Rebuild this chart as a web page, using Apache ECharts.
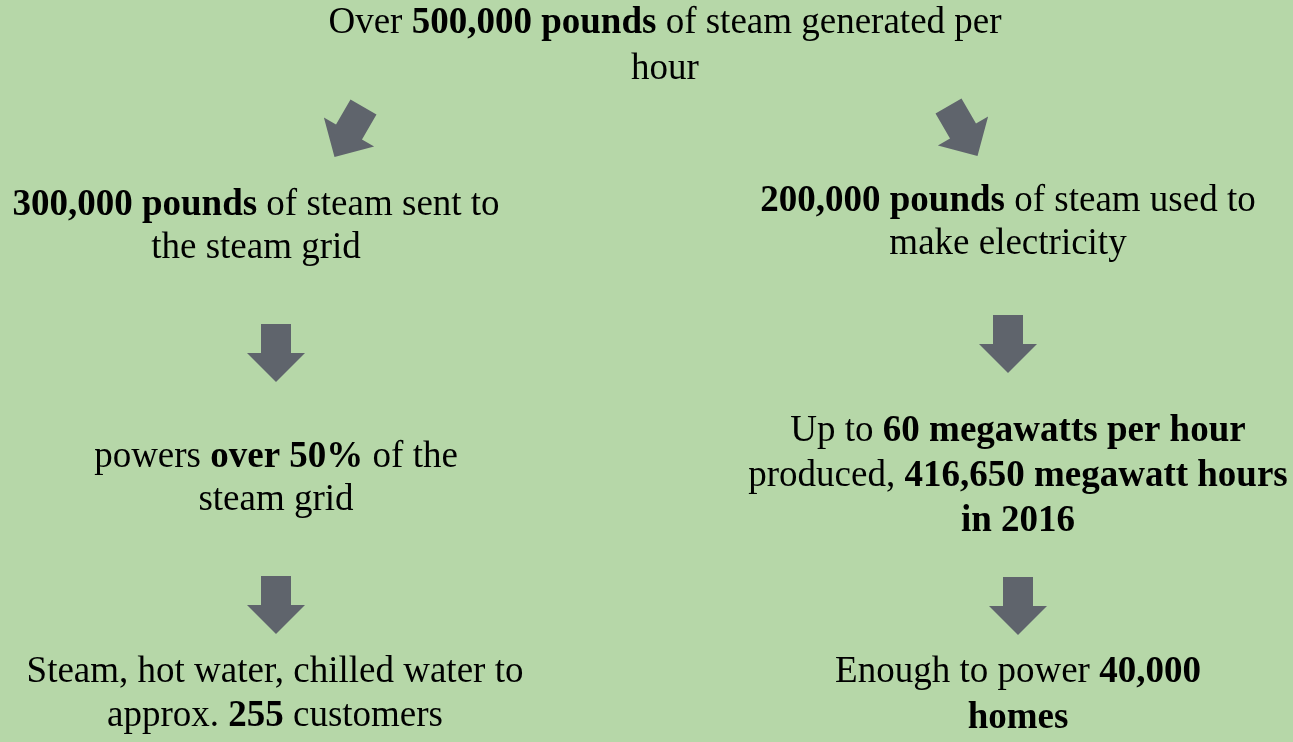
<!DOCTYPE html>
<html>
<head>
<meta charset="utf-8">
<title>Steam</title>
<script src="https://cdn.jsdelivr.net/npm/echarts@6/dist/echarts.min.js"></script>
<style>
html,body{margin:0;padding:0;background:#b6d7a8;}
#main{width:1293px;height:742px;}
</style>
</head>
<body>
<div id="main"></div>
<script>
// 文字块, **...** 为加粗
var steps = [
    'Over **500,000 pounds** of steam generated per\nhour',
    '**300,000 pounds** of steam sent to\nthe steam grid',
    '**200,000 pounds** of steam used to\nmake electricity',
    'powers **over 50%** of the\nsteam grid',
    'Up to **60 megawatts per hour**\nproduced, **416,650 megawatt hours**\n**in 2016**',
    'Steam, hot water, chilled water to\napprox. **255** customers',
    'Enough to power **40,000**\n**homes**'
];
// 文字块位置(像素)
var stepX = [665, 256, 1008, 276, 1018, 275, 1018];
var stepY = [46, 227, 223, 479, 476, 694, 695];
var stepLine = [46, 43, 43, 43, 45, 44, 46];
// 箭头位置和角度
var arrowX = [349, 963, 276, 1008, 276, 1018];
var arrowY = [132, 131, 353, 344, 605, 606];
var arrowRot = [-30, 30, 0, 0, 0, 0];

var arrowPath = 'path://M-15,-29L15,-29L15,0L29,0L0,29L-29,0L-15,0Z';

function toRich(s) {
    return s.split('\n').map(function (line) {
        return line.split('**').map(function (part, i) {
            if (!part) return '';
            return '{' + (i % 2 ? 'b' : 'n') + '|' + part + '}';
        }).join('');
    }).join('\n');
}
function makeRich(lh) {
    var base = {fontFamily: 'Liberation Serif', fontSize: 37, lineHeight: lh, color: '#000', align: 'center'};
    return {
        n: base,
        b: echarts.util.extend({fontWeight: 'bold'}, base)
    };
}

var textData = [];
for (var i = 0; i < steps.length; i++) {
    textData.push({
        value: [stepX[i], stepY[i]],
        label: {formatter: toRich(steps[i]), rich: makeRich(stepLine[i])}
    });
}
var arrowData = [];
for (var j = 0; j < arrowX.length; j++) {
    arrowData.push({value: [arrowX[j], arrowY[j]], symbolRotate: arrowRot[j]});
}

var chart = echarts.init(document.getElementById('main'));
var option = {
    backgroundColor: '#b6d7a8',
    animation: false,
    grid: {left: 0, right: 0, top: 0, bottom: 0},
    xAxis: {type: 'value', min: 0, max: 1293, show: false},
    yAxis: {type: 'value', min: 0, max: 742, inverse: true, show: false},
    series: [
        {
            type: 'scatter',
            data: arrowData,
            symbol: arrowPath,
            symbolSize: 58,
            itemStyle: {color: '#5f646c', opacity: 1},
            silent: true
        },
        {
            type: 'scatter',
            data: textData,
            symbolSize: 1,
            itemStyle: {color: 'rgba(0,0,0,0)', opacity: 1},
            label: {show: true, position: 'inside', align: 'center', verticalAlign: 'middle', color: '#000', opacity: 1},
            silent: true
        }
    ]
};
chart.setOption(option);
</script>
</body>
</html>
